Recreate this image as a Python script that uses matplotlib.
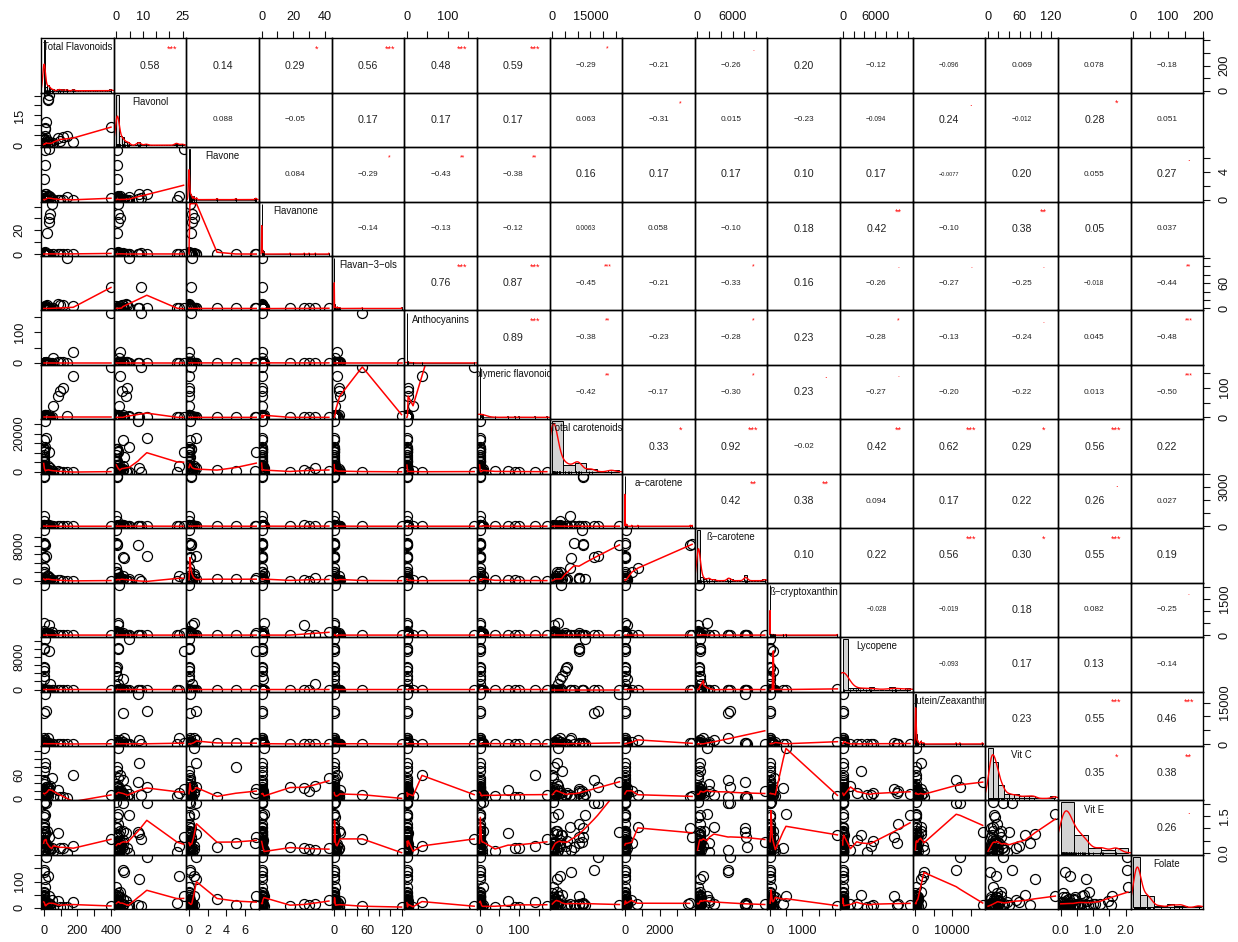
import numpy as np
import matplotlib
matplotlib.use("Agg")
import matplotlib.pyplot as plt
import matplotlib.transforms as mtransforms
from matplotlib.font_manager import FontProperties

FAMILY = ['Liberation Sans', 'DejaVu Sans']
plt.rcParams['font.family'] = FAMILY

# ---------------- data ----------------
var_labels = ["Total Flavonoids", "Flavonol", "Flavone", "Flavanone", "Flavan\u22123\u2212ols",
              "Anthocyanins", "Polymeric flavonoids", "Total carotenoids", "a\u2212carotene",
              "\u00df\u2212carotene", "\u00df\u2212cryptoxanthin", "Lycopene", "Lutein/Zeaxanthin",
              "Vit C", "Vit E", "Folate"]

total_flavonoids = [400, 176, 137, 117, 97, 87, 57, 48, 38, 34, 30, 22, 25, 27, 33, 5.5, 4, 12.5, 8.5, 2.6,
                    0.5, 0.6, 0.2, 0.3, 0.5, 0.2, 1.5, 19, 2.5, 3, 3.0, 0.5, 6, 1, 0.5, 0.5, 0, 0.5, 9.4, 1.5,
                    0.7, 0.7, 8, 6, 2.7, 3, 0.5, 10, 13, 3, 0, 0.5, 0.3, 7.5]
flavonol = [9.2, 1.5, 4.8, 4.0, 2.0, 3.5, 1.0, 0.8, 0.5, 1.5, 0.5, 0.4, 23, 23.5, 25.4, 0.4, 0.4, 11.5, 8.2, 2.4,
            0.3, 0.4, 0, 0, 0.3, 0, 1.2, 2.5, 0.6, 1, 2.5, 0, 4.6, 0.8, 0.5, 0.3, 0, 0.3, 8.6, 1.3,
            0.7, 0.7, 0, 0, 2.7, 0.3, 0, 0.5, 1.5, 3, 0, 0.3, 0, 0.4]
flavone = [0.2, 0, 0.3, 0, 0, 0, 0, 0.1, 0.3, 0.5, 0.3, 0.2, 0, 0.5, 7.2, 5.0, 3.0, 0.8, 0.1, 0.1,
           0.2, 0.2, 0, 0, 0, 0, 0, 0, 0.5, 0, 0, 0, 0, 0, 0, 0, 0, 0, 0.8, 0,
           0, 0, 0, 0, 0, 0, 0, 0, 0, 0.1, 0, 0.1, 0, 7.1]
flavanone = [0.5, 0.2, 0.0, 0.1, 0.3, 0.0, 0.4, 42.5, 34, 30, 27, 18, 0.0, 0.2, 0.0, 0.0, 0.1, 0.0, 0.0, 0.0,
             0.0, 0.0, 0.0, 0.1, 0.0, 0.0, 0.2, 0.4, 1.2, 0.0, 0.7, 0.0, 0.0, 0.0, 0.1, 0.0, 0.0, 0.0, 0.0, 0.1,
             0.6, 0.9, 0.2, 0.1, 0.0, 0.3, 0.5, 1.5, 0.2, 0.0, 1.1, 0.1, 0.0, 0.0]
flavan3ols = [50, 5, 120, 9, 8, 10, 2, 0.5, 0.2, 0.0, 0.1, 0.0, 0.3, 0.0, 0.0, 0.1, 0, 0, 0, 0,
              0, 0, 0, 0, 0, 0.1, 0.3, 8.5, 0.0, 2, 0, 0, 0, 0, 0, 0, 0, 0.2, 0, 0,
              0, 0, 0.5, 6, 0.0, 0.5, 0.0, 3, 5, 0, 0, 0, 0, 0]
anthocyanins = [165, 37, 0, 1.5, 3, 3, 15, 0, 0, 0, 0, 0, 0.3, 0, 0, 0, 0, 0, 0, 0,
                0, 0, 0, 0, 0, 0, 0, 0, 0, 0, 0, 0, 0, 0, 0, 0, 0, 0, 0, 0,
                0.2, 0, 0, 0, 0, 0, 0, 0.2, 1.5, 0, 0, 0, 0, 0]
polymeric = [170, 140, 5, 100, 89, 72, 39, 0, 0, 0, 0, 0, 0, 0, 0, 0, 0, 0, 0, 0,
             0, 0, 0, 0, 0, 0, 0, 8, 0, 0, 0, 0, 0, 0, 0, 0, 0, 0, 0, 0,
             0, 0, 7.5, 0, 0, 2, 0, 7, 6, 0, 0, 0, 0, 0]
total_carotenoids = [110, 33, 0, 67, 111, 246, 150, 330, 2110, 34, 800, 30, 5, 3000, 10500, 550, 700, 17800, 26400, 16400,
                     12100, 11900, 8600, 6900, 3000, 2063, 700, 1300, 2200, 3300, 3250, 4900, 12900, 10500, 10700, 5900, 5500, 3700, 1800, 2046,
                     105, 10, 385, 73, 1100, 180, 50, 60, 300, 7500, 850, 68, 11700, 420]
a_carotene = [0, 0, 0, 0, 0, 0, 0, 11, 5, 0, 101, 0, 0, 0, 0, 0, 0, 0, 0, 0,
              3700, 3600, 7, 716, 380, 16, 9, 19, 20, 0, 101, 0, 0, 0, 0, 0, 0, 0, 25, 6,
              33, 0, 24, 25, 69, 0, 0, 0, 0, 0, 0, 0, 50, 0]
b_carotene = [32, 7, 0, 27, 39, 128, 38, 71, 686, 3, 155, 30, 1, 1000, 500, 270, 300, 5626, 8100, 5300,
              8300, 8100, 8500, 2800, 2000, 2020, 640, 1094, 1624, 253, 449, 303, 400, 400, 500, 300, 250, 374, 361, 450,
              42, 0, 62, 26, 379, 52, 35, 27, 162, 5226, 47, 45, 11500, 210]
b_cryptoxanthin = [0, 0, 0, 11, 0, 0, 0, 116, 6, 20, 407, 0, 0, 0, 100, 0, 0, 0, 0, 0,
                   0, 0, 0, 0, 0, 1, 10, 104, 490, 2080, 0, 78, 0, 0, 0, 0, 0, 0, 1, 0,
                   0, 0, 28, 0, 0, 0, 0, 2, 67, 0, 161, 0, 0, 0]
lycopene = [0, 0, 0, 0, 0, 0, 0, 0, 1419, 0, 0, 0, 0, 0, 9500, 0, 0, 0, 0, 0,
            1, 0, 0, 0, 0, 0, 3, 0, 0, 159, 2573, 4532, 12400, 10000, 10200, 5500, 5200, 3300, 0, 0,
            0, 0, 0, 0, 0, 0, 0, 0, 0, 0, 0, 0, 0, 0]
lutein = [78, 26, 0, 29, 72, 118, 112, 129, 5, 11, 138, 0, 4, 2000, 400, 283, 400, 12150, 18300, 11100,
          256, 250, 0, 1500, 600, 26, 23, 89, 51, 834, 123, 8, 100, 100, 50, 80, 50, 0, 1403, 1590,
          30, 1, 271, 22, 640, 122, 0, 44, 91, 2312, 644, 23, 100, 210]
vit_c = [9.7, 59, 0.3, 4.6, 3.2, 21, 7, 53, 31, 19, 27, 29, 7.4, 15, 25, 80, 5, 28, 41, 46,
         5.9, 5.0, 2.4, 9, 20, 37, 16, 10, 128, 7.5, 14, 8.1, 12, 14, 18, 13, 8, 70, 89, 25,
         17, 18, 10, 8.7, 12, 14, 18, 4.3, 6.6, 4, 6.8, 2.8, 20, 13]
vit_e = [0.57, 0.29, 0.0, 0.18, 0.19, 0.8, 0.07, 0.18, 0.13, 0.15, 0.2, 0.22, 0.02, 0.3, 0.66, 0.4, 0.25, 2.03, 0.84, 2.05,
         0.66, 1.0, 0.26, 1.06, 0.4, 0.05, 0.45, 0.89, 1.58, 0.73, 0.54, 0.05, 1.55, 0.4, 1.2, 0.5, 0.3, 0.73, 0.78, 0.88,
         0.15, 0.08, 2.07, 0.1, 0.41, 1.46, 0.02, 0.12, 0.35, 0.13, 0.07, 0.03, 0.45, 0.4]
folate = [6, 24, 3, 3, 2, 25, 4, 30, 13, 11, 16, 8, 19, 120, 45, 10, 34, 194, 12, 145,
          19, 15, 11, 16, 30, 21, 43, 9, 46, 8, 15, 3, 12, 10, 15, 12, 6, 49, 108, 61,
          43, 57, 81, 20, 33, 25, 18, 7, 4, 136, 42, 7, 15, 9]

series = [total_flavonoids, flavonol, flavone, flavanone, flavan3ols, anthocyanins, polymeric,
          total_carotenoids, a_carotene, b_carotene, b_cryptoxanthin, lycopene, lutein, vit_c, vit_e, folate]

M = "\u2212"
cor_text = [
    ["0.58", "0.14", "0.29", "0.56", "0.48", "0.59", M+"0.29", M+"0.21", M+"0.26", "0.20", M+"0.12", M+"0.096", "0.069", "0.078", M+"0.18"],
    ["0.088", M+"0.05", "0.17", "0.17", "0.17", "0.063", M+"0.31", "0.015", M+"0.23", M+"0.094", "0.24", M+"0.012", "0.28", "0.051"],
    ["0.084", M+"0.29", M+"0.43", M+"0.38", "0.16", "0.17", "0.17", "0.10", "0.17", M+"0.0077", "0.20", "0.055", "0.27"],
    [M+"0.14", M+"0.13", M+"0.12", "0.0063", "0.058", M+"0.10", "0.18", "0.42", M+"0.10", "0.38", "0.05", "0.037"],
    ["0.76", "0.87", M+"0.45", M+"0.21", M+"0.33", "0.16", M+"0.26", M+"0.27", M+"0.25", M+"0.018", M+"0.44"],
    ["0.89", M+"0.38", M+"0.23", M+"0.28", "0.23", M+"0.28", M+"0.13", M+"0.24", "0.045", M+"0.48"],
    [M+"0.42", M+"0.17", M+"0.30", "0.23", M+"0.27", M+"0.20", M+"0.22", "0.013", M+"0.50"],
    ["0.33", "0.92", M+"0.02", "0.42", "0.62", "0.29", "0.56", "0.22"],
    ["0.42", "0.38", "0.094", "0.17", "0.22", "0.26", "0.027"],
    ["0.10", "0.22", "0.56", "0.30", "0.55", "0.19"],
    [M+"0.028", M+"0.019", "0.18", "0.082", M+"0.25"],
    [M+"0.093", "0.17", "0.13", M+"0.14"],
    ["0.23", "0.55", "0.46"],
    ["0.35", "0.38"],
    ["0.26"],
]
cor_stars = [
    ["***", "", "*", "***", "***", "***", "*", "", ".", "", "", "", "", "", ""],
    ["", "", "", "", "", "", "*", "", "", "", ".", "", "*", ""],
    ["", "*", "**", "**", "", "", "", "", "", "", "", "", "."],
    ["", "", "", "", "", "", "", "**", "", "**", "", ""],
    ["***", "***", "***", "", "*", "", ".", ".", ".", "", "**"],
    ["***", "**", "", "*", "", "*", "", ".", "", "***"],
    ["**", "", "*", ".", ".", "", "", "", "***"],
    ["*", "***", "", "**", "***", "*", "***", ""],
    ["**", "**", "", "", "", ".", ""],
    ["", "", "***", "*", "***", ""],
    ["", "", "", "", "."],
    ["", "", "", ""],
    ["", "***", "***"],
    ["*", "**"],
    ["."],
]

tick_values = [[0, 100, 200, 300, 400], [0, 5, 10, 15, 20, 25], [0, 2, 4, 6], [0, 10, 20, 30, 40],
               [0, 20, 40, 60, 80, 100, 120], [0, 50, 100, 150], [0, 50, 100, 150],
               [0, 5000, 10000, 15000, 20000, 25000], [0, 1000, 2000, 3000, 4000],
               [0, 2000, 4000, 6000, 8000, 10000], [0, 500, 1000, 1500, 2000],
               [0, 2000, 4000, 6000, 8000, 10000, 12000], [0, 5000, 10000, 15000],
               [0, 20, 40, 60, 80, 100, 120], [0, 0.5, 1.0, 1.5, 2.0], [0, 50, 100, 150, 200]]
x_tick_text = [["0", "", "200", "", "400"], ["0", "", "10", "", "", "25"], ["0", "2", "4", "6"],
               ["0", "", "20", "", "40"], ["0", "", "", "60", "", "", "120"], ["0", "", "100", ""],
               ["0", "", "100", ""], ["0", "", "", "15000", "", ""], ["0", "", "2000", "", ""],
               ["0", "", "", "6000", "", ""], ["0", "", "1000", "", ""], ["0", "", "", "6000", "", "", ""],
               ["0", "", "10000", ""], ["0", "", "", "60", "", "", "120"], ["0.0", "", "1.0", "", "2.0"],
               ["0", "", "100", "", "200"]]
y_tick_text = [["0", "", "200", "", ""], ["0", "", "", "15", "", ""], ["0", "", "4", ""],
               ["0", "", "20", "", ""], ["0", "", "", "60", "", "", ""], ["0", "", "100", ""],
               ["0", "", "100", ""], ["0", "", "", "", "20000", ""], ["0", "", "", "3000", ""],
               ["0", "", "", "", "8000", ""], ["0", "", "", "1500", ""], ["0", "", "", "", "8000", "", ""],
               ["0", "", "", "15000"], ["0", "", "", "60", "", "", ""], ["0.0", "", "", "1.5", ""],
               ["0", "", "100", "", ""]]


# ---------------- R-like helpers ----------------
def r_pretty(lo, hi, n):
    dx = hi - lo
    cell = dx / n if n > 1 else dx
    if cell <= 0:
        cell = abs(lo) if lo != 0 else 1.0
    h, h5 = 1.5, 0.5 + 1.5 * 1.5
    U = 10 ** np.floor(np.log10(cell))
    unit = U
    if 2 * U - cell < h * (cell - unit):
        unit = 2 * U
        if 5 * U - cell < h5 * (cell - unit):
            unit = 5 * U
            if 10 * U - cell < h * (cell - unit):
                unit = 10 * U
    ns = np.floor(lo / unit + 1e-7)
    nu = np.ceil(hi / unit - 1e-7)
    if nu <= ns:
        nu = ns + 1
    return np.arange(ns, nu + 1) * unit


def nclass_fd(x):
    n = len(x)
    q = np.quantile(x, [0.25, 0.75])
    h = 2 * (q[1] - q[0])
    if h == 0:
        al = 0.25
        while h == 0:
            al /= 2
            if al < 1 / 512:
                break
            qq = np.quantile(x, [al, 1 - al])
            h = (qq[1] - qq[0]) / (1 - 2 * al)
    if h > 0:
        return max(1, int(np.ceil((x.max() - x.min()) / (h * n ** (-1 / 3)))))
    return 1


def r_hist(x):
    br = r_pretty(x.min(), x.max(), nclass_fd(x))
    idx = np.searchsorted(br, x, side='left') - 1
    idx = np.clip(idx, 0, len(br) - 2)
    counts = np.bincount(idx, minlength=len(br) - 1)
    dens = counts / (len(x) * np.diff(br))
    return br, dens


def r_density(x):
    n = len(x)
    sd = np.std(x, ddof=1)
    q = np.quantile(x, [0.25, 0.75])
    lo = min(sd, (q[1] - q[0]) / 1.34)
    if not lo:
        lo = sd or abs(x[0]) or 1.0
    bw = 0.9 * lo * n ** (-0.2)
    gx = np.linspace(x.min() - 3 * bw, x.max() + 3 * bw, 512)
    gy = np.exp(-0.5 * ((gx[:, None] - x[None, :]) / bw) ** 2).sum(1) / (n * bw * np.sqrt(2 * np.pi))
    return gx, gy


def _lowest(x, y, n, xs, nleft, nright, w, userw, rw):
    rng = x[n - 1] - x[0]
    h = max(xs - x[nleft], x[nright] - xs)
    h9, h1 = 0.999 * h, 0.001 * h
    a = 0.0
    j = nleft
    while j < n:
        w[j] = 0.0
        r = abs(x[j] - xs)
        if r <= h9:
            w[j] = 1.0 if r <= h1 else (1 - (r / h) ** 3) ** 3
            if userw:
                w[j] *= rw[j]
            a += w[j]
        elif x[j] > xs:
            break
        j += 1
    nrt = j - 1
    if a <= 0:
        return None
    sl = slice(nleft, nrt + 1)
    w[sl] = w[sl] / a
    if h > 0:
        a = np.sum(w[sl] * x[sl])
        b = xs - a
        c = np.sum(w[sl] * (x[sl] - a) ** 2)
        if np.sqrt(c) > 0.001 * rng:
            b /= c
            w[sl] = w[sl] * (b * (x[sl] - a) + 1)
    return np.sum(w[sl] * y[sl])


def lowess(x, y, f=2 / 3, nsteps=3):
    o = np.argsort(x, kind='stable')
    x = np.asarray(x, float)[o]
    y = np.asarray(y, float)[o]
    n = len(x)
    delta = 0.01 * (x[-1] - x[0])
    ys = np.zeros(n)
    rw = np.ones(n)
    w = np.zeros(n)
    ns = max(2, min(n, int(f * n + 1e-7)))
    it = 1
    while it <= nsteps + 1:
        nleft, nright, last, i = 0, ns - 1, -1, 0
        while True:
            if nright < n - 1:
                d1 = x[i] - x[nleft]
                d2 = x[nright + 1] - x[i]
                if d1 > d2:
                    nleft += 1
                    nright += 1
                    continue
            val = _lowest(x, y, n, x[i], nleft, nright, w, it > 1, rw)
            ys[i] = y[i] if val is None else val
            if last < i - 1:
                denom = x[i] - x[last]
                for j in range(last + 1, i):
                    alpha = (x[j] - x[last]) / denom
                    ys[j] = alpha * ys[i] + (1 - alpha) * ys[last]
            last = i
            cut = x[last] + delta
            i = last + 1
            while i < n:
                if x[i] > cut:
                    break
                if x[i] == x[last]:
                    ys[i] = ys[last]
                    last = i
                i += 1
            i = max(last + 1, i - 1)
            if last >= n - 1:
                break
        res = y - ys
        sc = np.sum(np.abs(res)) / n
        if it > nsteps:
            break
        rr = np.abs(res)
        cmad = 6 * np.median(rr)
        if cmad < 1e-7 * sc:
            break
        c9, c1 = 0.999 * cmad, 0.001 * cmad
        rw = np.where(rr <= c1, 1.0, np.where(rr > c9, 0.0, (1 - (rr / cmad) ** 2) ** 2))
        it += 1
    return x, ys


def padded(v):
    lo, hi = float(np.min(v)), float(np.max(v))
    r = hi - lo
    return lo - 0.04 * r, hi + 0.04 * r


# ---------------- figure ----------------
W_PX, H_PX = 1238, 942
fig = plt.figure(figsize=(W_PX / 100, H_PX / 100), dpi=100, facecolor='white')
renderer = fig.canvas.get_renderer()

L, R, T, B = 41.0, 1203.3, 38.3, 909.3
nv = len(series)
pw, ph = (R - L) / nv, (B - T) / nv
data = [np.asarray(s, float) for s in series]

TARGET_W = 20.5  # px width of correlation text
tick_kw = dict(direction='out', length=5, width=0.8, labelsize=9.2, pad=6, colors='#111111')


def text_fs(s):
    fp = FontProperties(family=FAMILY, size=10)
    w, _, _ = renderer.get_text_width_height_descent(s, fp, ismath=False)
    return 10 * TARGET_W / w


for i in range(nv):
    for j in range(nv):
        ax = fig.add_axes([(L + j * pw) / W_PX, 1 - (T + (i + 1) * ph) / H_PX, pw / W_PX, ph / H_PX])
        ax.set_facecolor('none')
        for sp in ax.spines.values():
            sp.set_linewidth(1.0)
            sp.set_color('black')
        ax.set_xticks([])
        ax.set_yticks([])
        if i == j:
            x = data[i]
            br, dens = r_hist(x)
            ax.bar(br[:-1], dens, width=np.diff(br), align='edge', color='#D3D3D3',
                   edgecolor='black', linewidth=0.7)
            gx, gy = r_density(x)
            ax.plot(gx, gy, color='red', lw=1.0)
            ax.set_xlim(*padded(br))
            ax.set_ylim(-0.04 * dens.max(), 1.04 * dens.max())
            tr = mtransforms.blended_transform_factory(ax.transData, ax.transAxes)
            ax.vlines(x, 0, 0.05, transform=tr, color='black', lw=0.7)
            ax.text(0.5, 0.833, var_labels[i], transform=ax.transAxes, ha='center', va='center',
                    fontsize=6.9, color='#111111', clip_on=True)
            continue
        ax.set_xlim(*padded(data[j]))
        ax.set_ylim(*padded(data[i]))
        if i > j:
            ax.plot(data[j], data[i], 'o', ms=7.2, mfc='none', mec='black', mew=0.9)
            lx, ly = lowess(data[j], data[i])
            ax.plot(lx, ly, color='red', lw=1.1)
        else:
            s = cor_text[i][j - i - 1]
            st = cor_stars[i][j - i - 1]
            fs = text_fs(s)
            ax.text(0.5, 0.5, s, transform=ax.transAxes, ha='center', va='center',
                    fontsize=fs, color='#222222')
            if st:
                ax.text(0.8, 0.8, st, transform=ax.transAxes, ha='center', va='center',
                        fontsize=fs * 0.85, color='red')
        # outer axes
        if i == 0 and j % 2 == 1:
            ax.xaxis.set_ticks_position('top')
            ax.set_xticks(tick_values[j])
            ax.set_xticklabels(x_tick_text[j])
            ax.tick_params(axis='x', **tick_kw)
        if i == nv - 1 and j % 2 == 0:
            ax.xaxis.set_ticks_position('bottom')
            ax.set_xticks(tick_values[j])
            ax.set_xticklabels(x_tick_text[j])
            ax.tick_params(axis='x', **tick_kw)
        if j == 0 and i % 2 == 1:
            ax.yaxis.set_ticks_position('left')
            ax.set_yticks(tick_values[i])
            ax.set_yticklabels(y_tick_text[i], rotation=90, va='center')
            ax.tick_params(axis='y', **tick_kw)
        if j == nv - 1 and i % 2 == 0:
            ax.yaxis.set_ticks_position('right')
            ax.set_yticks(tick_values[i])
            ax.set_yticklabels(y_tick_text[i], rotation=90, va='center')
            ax.tick_params(axis='y', **tick_kw)

fig.savefig('out.png', dpi=100, facecolor='white')
